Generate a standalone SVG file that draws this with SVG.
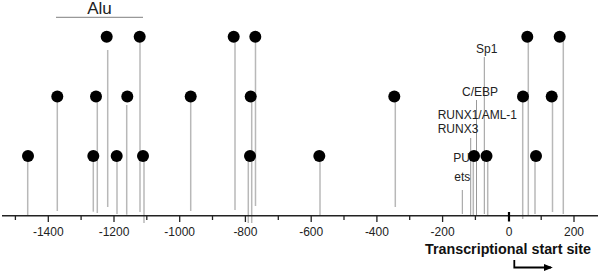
<svg xmlns="http://www.w3.org/2000/svg" width="600" height="273" viewBox="0 0 600 273">
<defs>
<style>
.stem{stroke:#b8b8b8;stroke-width:1.5;fill:none}
.lstem{stroke:#999;stroke-width:1;fill:none}
.dot{fill:#000}
.axis{stroke:#222;stroke-width:1.5;fill:none}
.tick{stroke:#222;stroke-width:1.3}
.tl{font-family:"Liberation Sans",Arial,sans-serif;font-size:12px;fill:#222;text-anchor:middle}
.lab{font-family:"Liberation Sans",Arial,sans-serif;font-size:12px;fill:#222}
</style>
<marker id="ah" viewBox="0 0 10 10" refX="8" refY="5" markerWidth="9" markerHeight="9" orient="auto" markerUnits="userSpaceOnUse">
<path d="M0,1 L10,5 L0,9 Z" fill="#000"/>
</marker>
</defs>
<rect width="600" height="273" fill="#fff"/>

<g id="alu">
<line x1="56" y1="17.3" x2="143" y2="17.3" stroke="#999" stroke-width="1.2"/>
<text x="99.5" y="14" font-family="'Liberation Sans',Arial,sans-serif" font-size="17" fill="#222" text-anchor="middle">Alu</text>
</g>

<g id="connectors">
<line class="stem" x1="27.7" y1="156" x2="27.7" y2="216"/>
<line class="stem" x1="57.3" y1="96.5" x2="57.3" y2="211"/>
<line class="stem" x1="93.3" y1="156" x2="93.3" y2="211.7"/>
<line class="stem" x1="97.3" y1="96.5" x2="97.3" y2="213"/>
<line class="stem" x1="107.7" y1="50" x2="107.7" y2="207"/>
<line class="stem" x1="117" y1="156" x2="117" y2="214"/>
<line class="stem" x1="126.7" y1="105" x2="126.7" y2="214.7"/>
<line class="stem" x1="140" y1="36.7" x2="140" y2="212"/>
<line class="stem" x1="144" y1="156" x2="144" y2="223"/>
<line class="stem" x1="190.7" y1="96.5" x2="190.7" y2="211"/>
<line class="stem" x1="235" y1="36.7" x2="235" y2="210"/>
<line class="stem" x1="248.3" y1="156" x2="248.3" y2="223"/>
<line class="stem" x1="251.7" y1="96.5" x2="251.7" y2="223"/>
<line class="stem" x1="255.5" y1="36.7" x2="255.5" y2="206"/>
<line class="stem" x1="320" y1="156" x2="320" y2="215"/>
<line class="stem" x1="395.3" y1="96.5" x2="395.3" y2="207"/>
<line class="lstem" x1="462.3" y1="190" x2="462.3" y2="214"/>
<line class="lstem" x1="470.7" y1="138" x2="470.7" y2="215"/>
<line class="stem" x1="473.3" y1="156" x2="473.3" y2="215"/>
<line class="lstem" x1="476.5" y1="100" x2="476.5" y2="215"/>
<line class="lstem" x1="484.3" y1="57" x2="484.3" y2="214"/>
<line class="stem" x1="487.7" y1="156" x2="487.7" y2="215"/>
<line class="stem" x1="522.7" y1="96.5" x2="522.7" y2="219"/>
<line class="stem" x1="528.3" y1="36.7" x2="528.3" y2="215"/>
<line class="stem" x1="535" y1="156" x2="535" y2="214"/>
<line class="stem" x1="552.5" y1="96.5" x2="552.5" y2="212"/>
<line class="stem" x1="563.3" y1="36.7" x2="563.3" y2="214"/>
</g>

<g id="dots-top">
<circle class="dot" cx="106.7" cy="36.7" r="6"/>
<circle class="dot" cx="139.7" cy="36.7" r="6"/>
<circle class="dot" cx="233.7" cy="36.7" r="6"/>
<circle class="dot" cx="255.3" cy="36.7" r="6"/>
<circle class="dot" cx="527.3" cy="36.7" r="6"/>
<circle class="dot" cx="559.7" cy="36.7" r="6"/>
</g>
<g id="dots-middle">
<circle class="dot" cx="57.3" cy="96.5" r="6"/>
<circle class="dot" cx="96" cy="96.5" r="6"/>
<circle class="dot" cx="127.3" cy="96.5" r="6"/>
<circle class="dot" cx="190.7" cy="96.5" r="6"/>
<circle class="dot" cx="250.7" cy="96.5" r="6"/>
<circle class="dot" cx="394.3" cy="96.5" r="6"/>
<circle class="dot" cx="523" cy="96.5" r="6"/>
<circle class="dot" cx="551.7" cy="96.5" r="6"/>
</g>
<g id="dots-bottom">
<circle class="dot" cx="28" cy="156" r="6"/>
<circle class="dot" cx="93.3" cy="156" r="6"/>
<circle class="dot" cx="116.7" cy="156" r="6"/>
<circle class="dot" cx="143" cy="156" r="6"/>
<circle class="dot" cx="250" cy="156" r="6"/>
<circle class="dot" cx="319.3" cy="156" r="6"/>
<circle class="dot" cx="474" cy="156" r="6"/>
<circle class="dot" cx="486.5" cy="156" r="6"/>
<circle class="dot" cx="536" cy="156" r="6"/>
</g>

<g id="labels">
<text class="lab" x="476" y="53.3">Sp1</text>
<text class="lab" x="462" y="96">C/EBP</text>
<text class="lab" x="437.7" y="119.3">RUNX1/AML-1</text>
<text class="lab" x="437.7" y="133.3">RUNX3</text>
<text class="lab" x="453.3" y="162.3">PU</text>
<text class="lab" x="454.3" y="181">ets</text>
</g>

<g id="axis">
<line class="axis" x1="2" y1="215.8" x2="598" y2="215.8"/>
<g class="tick">
<line x1="48.3" y1="215.8" x2="48.3" y2="222"/>
<line x1="114" y1="215.8" x2="114" y2="222"/>
<line x1="179.7" y1="215.8" x2="179.7" y2="222"/>
<line x1="245.4" y1="215.8" x2="245.4" y2="222"/>
<line x1="311.2" y1="215.8" x2="311.2" y2="222"/>
<line x1="376.9" y1="215.8" x2="376.9" y2="222"/>
<line x1="442.6" y1="215.8" x2="442.6" y2="222"/>
<line x1="574" y1="215.8" x2="574" y2="222"/>
<line x1="15.4" y1="215.8" x2="15.4" y2="220"/>
<line x1="81.1" y1="215.8" x2="81.1" y2="220"/>
<line x1="146.8" y1="215.8" x2="146.8" y2="220"/>
<line x1="212.5" y1="215.8" x2="212.5" y2="220"/>
<line x1="278.3" y1="215.8" x2="278.3" y2="220"/>
<line x1="344" y1="215.8" x2="344" y2="220"/>
<line x1="409.7" y1="215.8" x2="409.7" y2="220"/>
<line x1="475.4" y1="215.8" x2="475.4" y2="220"/>
<line x1="541.2" y1="215.8" x2="541.2" y2="220"/>
</g>
<line x1="509" y1="212" x2="509" y2="221.5" stroke="#000" stroke-width="2.2"/>
<text class="tl" x="48.3" y="236">-1400</text>
<text class="tl" x="114" y="236">-1200</text>
<text class="tl" x="179.7" y="236">-1000</text>
<text class="tl" x="245.4" y="236">-800</text>
<text class="tl" x="311.2" y="236">-600</text>
<text class="tl" x="376.9" y="236">-400</text>
<text class="tl" x="442.6" y="236">-200</text>
<text class="tl" x="509" y="236">0</text>
<text class="tl" x="574" y="236">200</text>
</g>

<g id="tss">
<text x="425" y="254.3" font-family="'Liberation Sans',Arial,sans-serif" font-size="14.3" font-weight="bold" fill="#111">Transcriptional start site</text>
<path d="M514.3,260 L514.3,267.5 L551,267.5" fill="none" stroke="#000" stroke-width="1.8" marker-end="url(#ah)"/>
</g>
</svg>
